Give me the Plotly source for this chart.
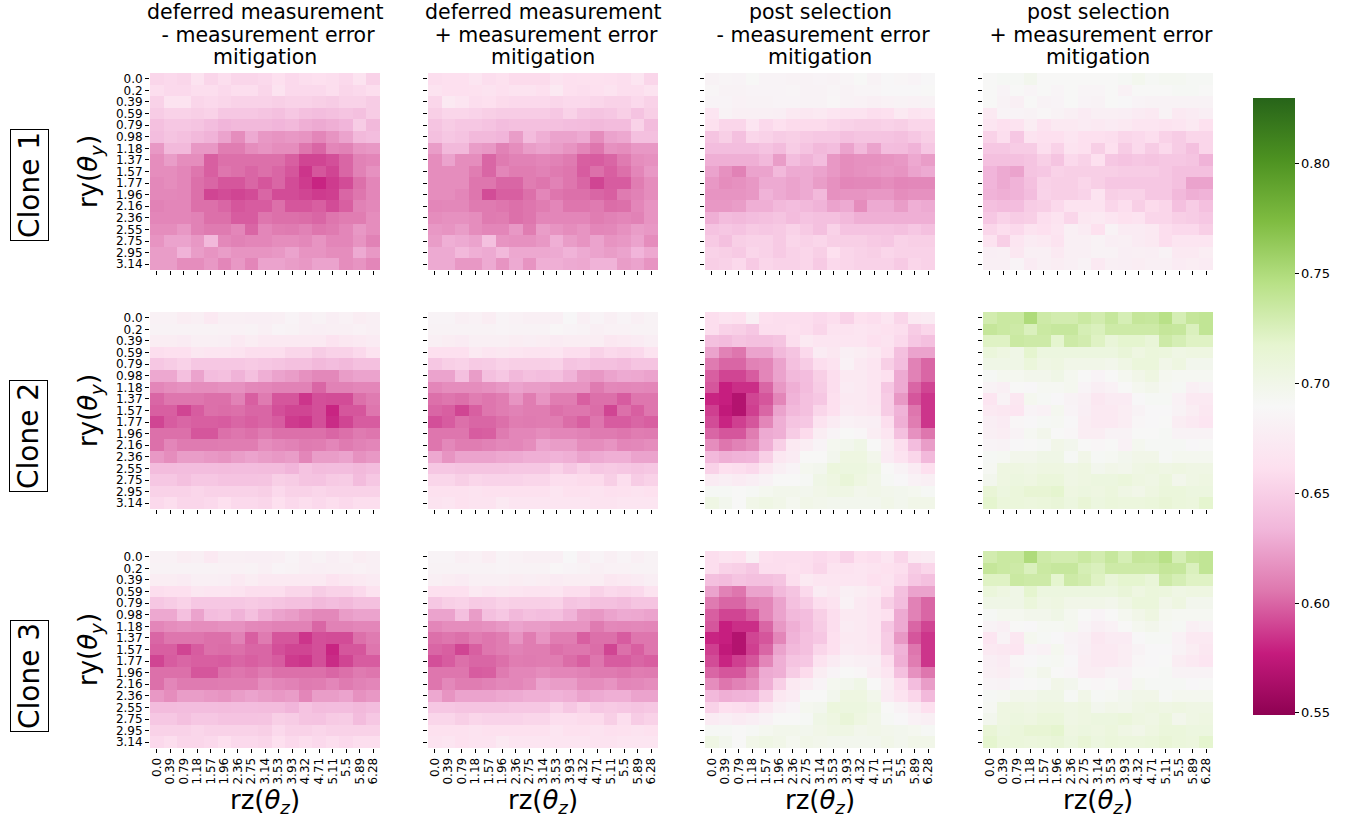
import plotly.graph_objects as go

ry_labels = ["0.0", "0.2", "0.39", "0.59", "0.79", "0.98", "1.18", "1.37", "1.57",
             "1.77", "1.96", "2.16", "2.36", "2.55", "2.75", "2.95", "3.14"]
rz_labels = ["0.0", "0.39", "0.79", "1.18", "1.57", "1.96", "2.36", "2.75", "3.14",
             "3.53", "3.93", "4.32", "4.71", "5.11", "5.5", "5.89", "6.28"]

col_titles = [["deferred measurement", " - measurement error", "mitigation"],
              ["deferred measurement", " + measurement error", "mitigation"],
              ["post selection", " - measurement error", "mitigation"],
              ["post selection", " + measurement error", "mitigation"]]
row_titles = ["Clone 1", "Clone 2", "Clone 3"]

# Clone 1
c1_dm_minus = [
    [0.655,0.657,0.655,0.665,0.655,0.660,0.655,0.655,0.657,0.662,0.657,0.660,0.662,0.660,0.657,0.665,0.652],
    [0.660,0.657,0.657,0.660,0.660,0.657,0.660,0.660,0.655,0.665,0.657,0.657,0.657,0.660,0.655,0.657,0.660],
    [0.652,0.665,0.665,0.655,0.657,0.655,0.652,0.652,0.652,0.650,0.652,0.652,0.650,0.648,0.652,0.652,0.648],
    [0.648,0.652,0.652,0.650,0.652,0.645,0.645,0.645,0.643,0.640,0.645,0.640,0.638,0.640,0.643,0.640,0.648],
    [0.640,0.645,0.645,0.643,0.638,0.633,0.635,0.635,0.635,0.633,0.635,0.630,0.628,0.630,0.633,0.648,0.635],
    [0.638,0.643,0.640,0.635,0.632,0.625,0.615,0.628,0.620,0.618,0.620,0.618,0.612,0.618,0.625,0.635,0.638],
    [0.620,0.635,0.635,0.620,0.620,0.608,0.608,0.615,0.618,0.615,0.615,0.605,0.600,0.612,0.610,0.618,0.620],
    [0.615,0.622,0.615,0.615,0.598,0.603,0.603,0.603,0.603,0.603,0.598,0.590,0.590,0.593,0.600,0.610,0.612],
    [0.615,0.615,0.612,0.605,0.598,0.605,0.603,0.600,0.603,0.600,0.595,0.585,0.595,0.590,0.600,0.610,0.617],
    [0.613,0.615,0.612,0.603,0.600,0.595,0.595,0.600,0.595,0.600,0.592,0.587,0.580,0.587,0.592,0.603,0.612],
    [0.613,0.613,0.612,0.603,0.590,0.592,0.590,0.592,0.600,0.592,0.592,0.590,0.587,0.588,0.600,0.605,0.612],
    [0.610,0.612,0.612,0.603,0.603,0.600,0.595,0.597,0.597,0.603,0.595,0.595,0.598,0.592,0.598,0.610,0.613],
    [0.612,0.612,0.612,0.610,0.603,0.603,0.597,0.597,0.605,0.603,0.603,0.602,0.600,0.605,0.608,0.608,0.615],
    [0.615,0.615,0.620,0.610,0.607,0.607,0.612,0.600,0.612,0.608,0.607,0.610,0.605,0.607,0.612,0.620,0.615],
    [0.618,0.625,0.625,0.620,0.635,0.613,0.610,0.612,0.612,0.615,0.615,0.613,0.618,0.612,0.612,0.618,0.610],
    [0.622,0.622,0.632,0.622,0.618,0.622,0.618,0.618,0.618,0.620,0.625,0.618,0.618,0.615,0.615,0.628,0.620],
    [0.622,0.622,0.615,0.615,0.620,0.612,0.620,0.612,0.625,0.625,0.622,0.620,0.625,0.625,0.615,0.618,0.612],
]
c1_dm_plus = [
    [0.660,0.662,0.662,0.667,0.660,0.663,0.658,0.658,0.658,0.665,0.662,0.663,0.663,0.662,0.660,0.667,0.655],
    [0.665,0.662,0.662,0.663,0.665,0.662,0.665,0.665,0.662,0.672,0.662,0.660,0.662,0.665,0.660,0.660,0.665],
    [0.655,0.672,0.668,0.660,0.662,0.658,0.657,0.657,0.657,0.655,0.657,0.657,0.655,0.652,0.652,0.657,0.652],
    [0.650,0.655,0.655,0.653,0.650,0.648,0.648,0.648,0.648,0.645,0.652,0.645,0.643,0.645,0.650,0.642,0.650],
    [0.643,0.648,0.645,0.645,0.642,0.638,0.640,0.640,0.640,0.640,0.638,0.637,0.635,0.637,0.637,0.652,0.637],
    [0.640,0.645,0.642,0.635,0.635,0.633,0.622,0.637,0.630,0.625,0.625,0.628,0.615,0.625,0.627,0.640,0.640],
    [0.622,0.635,0.635,0.622,0.620,0.610,0.615,0.622,0.625,0.622,0.618,0.612,0.605,0.617,0.615,0.620,0.620],
    [0.615,0.625,0.615,0.615,0.600,0.607,0.610,0.610,0.612,0.610,0.607,0.598,0.597,0.600,0.607,0.615,0.617],
    [0.615,0.615,0.615,0.608,0.600,0.612,0.608,0.608,0.610,0.607,0.605,0.597,0.603,0.598,0.603,0.612,0.620],
    [0.615,0.615,0.615,0.605,0.605,0.600,0.600,0.608,0.605,0.610,0.605,0.600,0.590,0.597,0.597,0.608,0.615],
    [0.615,0.615,0.612,0.605,0.592,0.598,0.598,0.603,0.612,0.605,0.603,0.603,0.600,0.598,0.607,0.610,0.615],
    [0.612,0.613,0.613,0.607,0.607,0.605,0.603,0.605,0.608,0.612,0.605,0.605,0.607,0.602,0.603,0.612,0.618],
    [0.615,0.617,0.617,0.615,0.607,0.608,0.603,0.605,0.612,0.612,0.612,0.612,0.608,0.610,0.612,0.610,0.618],
    [0.620,0.618,0.622,0.615,0.612,0.612,0.620,0.608,0.622,0.618,0.615,0.618,0.612,0.613,0.617,0.622,0.620],
    [0.622,0.630,0.628,0.625,0.640,0.618,0.617,0.617,0.620,0.630,0.622,0.618,0.625,0.618,0.620,0.625,0.615],
    [0.628,0.628,0.635,0.630,0.628,0.635,0.627,0.627,0.627,0.628,0.632,0.628,0.625,0.622,0.625,0.633,0.627],
    [0.628,0.628,0.620,0.620,0.628,0.618,0.628,0.618,0.630,0.630,0.628,0.627,0.632,0.632,0.622,0.625,0.618],
]
c1_ps_minus = [
    [0.683,0.686,0.685,0.690,0.685,0.685,0.683,0.683,0.685,0.683,0.686,0.690,0.683,0.688,0.687,0.685,0.688],
    [0.687,0.683,0.683,0.685,0.685,0.685,0.686,0.683,0.683,0.686,0.683,0.686,0.686,0.688,0.688,0.688,0.690],
    [0.685,0.685,0.682,0.683,0.683,0.685,0.685,0.683,0.683,0.687,0.683,0.682,0.680,0.682,0.683,0.682,0.683],
    [0.668,0.683,0.680,0.680,0.680,0.678,0.672,0.670,0.672,0.668,0.665,0.665,0.660,0.662,0.673,0.665,0.667],
    [0.663,0.655,0.655,0.667,0.657,0.662,0.658,0.658,0.658,0.655,0.652,0.650,0.650,0.652,0.650,0.655,0.655],
    [0.643,0.650,0.640,0.655,0.652,0.648,0.650,0.647,0.645,0.645,0.640,0.643,0.643,0.642,0.640,0.645,0.650],
    [0.638,0.638,0.638,0.638,0.642,0.637,0.648,0.642,0.635,0.638,0.625,0.635,0.625,0.638,0.637,0.632,0.645],
    [0.630,0.630,0.630,0.630,0.635,0.622,0.638,0.632,0.638,0.620,0.615,0.617,0.617,0.618,0.620,0.627,0.622],
    [0.625,0.617,0.610,0.625,0.625,0.635,0.628,0.628,0.625,0.620,0.615,0.617,0.618,0.620,0.618,0.625,0.628],
    [0.620,0.615,0.617,0.620,0.628,0.628,0.625,0.628,0.622,0.617,0.612,0.613,0.613,0.615,0.612,0.613,0.613],
    [0.618,0.618,0.618,0.620,0.632,0.628,0.625,0.628,0.635,0.617,0.618,0.618,0.620,0.620,0.615,0.617,0.617],
    [0.620,0.620,0.622,0.630,0.630,0.635,0.638,0.635,0.632,0.625,0.628,0.615,0.628,0.628,0.622,0.630,0.628],
    [0.630,0.637,0.635,0.638,0.640,0.643,0.637,0.642,0.640,0.640,0.635,0.630,0.630,0.630,0.630,0.630,0.630],
    [0.642,0.645,0.642,0.647,0.645,0.647,0.652,0.647,0.640,0.652,0.642,0.642,0.642,0.642,0.640,0.645,0.640],
    [0.647,0.640,0.650,0.652,0.652,0.647,0.655,0.652,0.655,0.650,0.650,0.650,0.647,0.645,0.652,0.650,0.650],
    [0.652,0.650,0.647,0.655,0.652,0.647,0.652,0.655,0.650,0.662,0.655,0.652,0.650,0.655,0.652,0.652,0.652],
    [0.650,0.652,0.657,0.647,0.655,0.652,0.652,0.655,0.647,0.657,0.655,0.652,0.652,0.652,0.647,0.655,0.652],
]
c1_ps_plus = [
    [0.690,0.692,0.692,0.697,0.690,0.690,0.690,0.690,0.690,0.690,0.692,0.696,0.692,0.694,0.694,0.692,0.692],
    [0.690,0.685,0.690,0.686,0.690,0.686,0.690,0.686,0.686,0.690,0.682,0.690,0.690,0.690,0.692,0.692,0.690],
    [0.690,0.683,0.680,0.690,0.683,0.685,0.690,0.685,0.683,0.690,0.688,0.685,0.683,0.683,0.683,0.683,0.683],
    [0.673,0.685,0.685,0.683,0.687,0.683,0.680,0.675,0.680,0.680,0.678,0.675,0.672,0.683,0.672,0.675,0.678],
    [0.668,0.662,0.665,0.677,0.665,0.673,0.673,0.675,0.672,0.675,0.672,0.667,0.667,0.665,0.667,0.672,0.663],
    [0.652,0.660,0.645,0.665,0.662,0.662,0.667,0.662,0.662,0.660,0.655,0.657,0.660,0.652,0.648,0.655,0.655],
    [0.645,0.645,0.648,0.648,0.660,0.652,0.665,0.662,0.650,0.662,0.648,0.657,0.648,0.657,0.648,0.640,0.655],
    [0.640,0.640,0.640,0.643,0.650,0.643,0.657,0.652,0.662,0.645,0.642,0.645,0.643,0.645,0.645,0.643,0.632],
    [0.633,0.628,0.625,0.643,0.645,0.652,0.650,0.650,0.650,0.650,0.648,0.648,0.648,0.645,0.640,0.640,0.640],
    [0.633,0.628,0.632,0.640,0.652,0.650,0.650,0.655,0.650,0.645,0.645,0.645,0.645,0.645,0.640,0.625,0.625],
    [0.632,0.630,0.632,0.638,0.653,0.650,0.650,0.653,0.665,0.650,0.652,0.652,0.645,0.645,0.635,0.630,0.632],
    [0.640,0.637,0.638,0.648,0.650,0.657,0.665,0.665,0.665,0.655,0.660,0.650,0.658,0.655,0.640,0.648,0.640],
    [0.645,0.652,0.648,0.650,0.660,0.665,0.655,0.670,0.672,0.668,0.663,0.665,0.655,0.655,0.650,0.648,0.645],
    [0.655,0.660,0.657,0.665,0.662,0.667,0.680,0.675,0.663,0.683,0.675,0.675,0.673,0.660,0.657,0.657,0.650],
    [0.665,0.650,0.668,0.675,0.672,0.665,0.680,0.680,0.683,0.678,0.680,0.675,0.672,0.660,0.668,0.668,0.668],
    [0.678,0.680,0.670,0.680,0.680,0.672,0.680,0.680,0.683,0.683,0.678,0.680,0.678,0.683,0.672,0.672,0.677],
    [0.680,0.680,0.685,0.675,0.680,0.677,0.680,0.683,0.672,0.680,0.678,0.677,0.680,0.680,0.675,0.677,0.675],
]

# Clone 2
c2_dm_minus = [
    [0.682,0.682,0.677,0.680,0.672,0.680,0.680,0.678,0.678,0.680,0.685,0.680,0.683,0.678,0.682,0.677,0.680],
    [0.683,0.683,0.683,0.683,0.683,0.682,0.682,0.683,0.680,0.685,0.683,0.680,0.678,0.680,0.680,0.682,0.680],
    [0.677,0.677,0.675,0.680,0.680,0.678,0.672,0.677,0.672,0.672,0.672,0.672,0.672,0.665,0.670,0.672,0.675],
    [0.660,0.662,0.662,0.670,0.668,0.668,0.665,0.660,0.660,0.660,0.655,0.655,0.648,0.652,0.652,0.657,0.665],
    [0.645,0.648,0.652,0.645,0.645,0.645,0.645,0.647,0.645,0.643,0.640,0.640,0.635,0.638,0.635,0.640,0.640],
    [0.627,0.627,0.640,0.625,0.638,0.640,0.632,0.640,0.630,0.625,0.622,0.617,0.613,0.613,0.622,0.625,0.625],
    [0.612,0.615,0.617,0.615,0.615,0.617,0.617,0.613,0.612,0.610,0.610,0.610,0.600,0.610,0.610,0.612,0.612],
    [0.600,0.605,0.605,0.605,0.603,0.603,0.610,0.598,0.607,0.595,0.595,0.585,0.593,0.592,0.592,0.603,0.607],
    [0.598,0.598,0.590,0.597,0.603,0.602,0.603,0.600,0.600,0.593,0.590,0.590,0.593,0.580,0.595,0.595,0.605],
    [0.590,0.597,0.600,0.598,0.598,0.597,0.600,0.598,0.600,0.597,0.587,0.585,0.593,0.582,0.590,0.597,0.597],
    [0.603,0.603,0.603,0.595,0.595,0.603,0.605,0.603,0.607,0.603,0.603,0.603,0.603,0.600,0.603,0.607,0.605],
    [0.603,0.612,0.607,0.607,0.607,0.608,0.608,0.608,0.615,0.612,0.610,0.607,0.608,0.612,0.607,0.610,0.612],
    [0.620,0.615,0.622,0.622,0.620,0.618,0.622,0.625,0.622,0.620,0.622,0.612,0.622,0.622,0.625,0.617,0.620],
    [0.637,0.637,0.638,0.638,0.638,0.637,0.638,0.638,0.637,0.637,0.633,0.642,0.637,0.638,0.638,0.635,0.638],
    [0.645,0.645,0.640,0.645,0.645,0.642,0.642,0.642,0.643,0.650,0.648,0.643,0.642,0.647,0.648,0.637,0.645],
    [0.652,0.652,0.652,0.655,0.652,0.652,0.652,0.652,0.650,0.657,0.652,0.652,0.655,0.652,0.652,0.652,0.652],
    [0.657,0.660,0.655,0.655,0.657,0.662,0.657,0.657,0.655,0.662,0.657,0.660,0.657,0.660,0.657,0.660,0.660],
]
c2_dm_plus = [
    [0.685,0.685,0.680,0.682,0.677,0.685,0.682,0.680,0.680,0.680,0.688,0.680,0.685,0.680,0.685,0.680,0.683],
    [0.683,0.683,0.683,0.683,0.683,0.685,0.683,0.683,0.683,0.687,0.685,0.683,0.680,0.682,0.682,0.683,0.683],
    [0.680,0.677,0.675,0.680,0.680,0.680,0.677,0.678,0.677,0.675,0.677,0.677,0.677,0.670,0.672,0.675,0.678],
    [0.662,0.662,0.662,0.672,0.668,0.670,0.668,0.665,0.665,0.668,0.660,0.660,0.652,0.657,0.655,0.657,0.665],
    [0.645,0.650,0.652,0.647,0.648,0.652,0.650,0.650,0.650,0.652,0.643,0.645,0.640,0.640,0.637,0.643,0.643],
    [0.625,0.625,0.640,0.622,0.640,0.645,0.635,0.640,0.638,0.640,0.632,0.622,0.620,0.625,0.628,0.627,0.625],
    [0.612,0.615,0.615,0.615,0.617,0.620,0.625,0.622,0.622,0.618,0.618,0.618,0.607,0.613,0.612,0.613,0.612],
    [0.603,0.605,0.603,0.608,0.605,0.608,0.618,0.608,0.618,0.608,0.608,0.598,0.603,0.603,0.597,0.605,0.605],
    [0.600,0.598,0.590,0.598,0.605,0.608,0.610,0.608,0.608,0.603,0.605,0.605,0.602,0.590,0.603,0.598,0.605],
    [0.593,0.597,0.603,0.600,0.600,0.603,0.608,0.607,0.608,0.608,0.602,0.598,0.605,0.597,0.597,0.600,0.598],
    [0.605,0.605,0.605,0.597,0.598,0.607,0.612,0.612,0.615,0.612,0.612,0.610,0.607,0.607,0.605,0.608,0.607],
    [0.605,0.613,0.608,0.608,0.610,0.613,0.612,0.615,0.625,0.622,0.622,0.615,0.615,0.618,0.612,0.613,0.615],
    [0.627,0.618,0.625,0.625,0.625,0.627,0.628,0.630,0.630,0.632,0.630,0.625,0.628,0.630,0.630,0.625,0.625],
    [0.645,0.645,0.643,0.643,0.643,0.643,0.645,0.645,0.645,0.652,0.645,0.652,0.645,0.647,0.645,0.643,0.645],
    [0.655,0.655,0.650,0.655,0.653,0.653,0.653,0.655,0.655,0.660,0.660,0.658,0.658,0.650,0.660,0.648,0.652],
    [0.663,0.663,0.663,0.665,0.663,0.663,0.663,0.663,0.663,0.667,0.663,0.663,0.665,0.662,0.663,0.665,0.663],
    [0.665,0.667,0.663,0.665,0.665,0.672,0.667,0.667,0.667,0.668,0.667,0.667,0.665,0.665,0.667,0.667,0.667],
]
c2_ps_minus = [
    [0.660,0.665,0.663,0.680,0.662,0.660,0.660,0.660,0.657,0.660,0.652,0.663,0.660,0.668,0.655,0.672,0.675],
    [0.660,0.652,0.650,0.645,0.660,0.660,0.662,0.660,0.655,0.665,0.665,0.667,0.665,0.663,0.660,0.648,0.655],
    [0.640,0.637,0.643,0.640,0.640,0.643,0.660,0.672,0.668,0.668,0.668,0.668,0.662,0.665,0.657,0.645,0.640],
    [0.625,0.610,0.605,0.625,0.625,0.635,0.643,0.657,0.675,0.670,0.680,0.677,0.672,0.662,0.640,0.625,0.625],
    [0.607,0.600,0.600,0.610,0.612,0.625,0.640,0.648,0.660,0.665,0.682,0.672,0.668,0.650,0.638,0.610,0.600],
    [0.598,0.590,0.590,0.597,0.612,0.625,0.635,0.638,0.650,0.660,0.672,0.672,0.668,0.662,0.628,0.610,0.600],
    [0.595,0.578,0.583,0.583,0.600,0.620,0.630,0.637,0.648,0.660,0.675,0.672,0.668,0.645,0.628,0.600,0.590],
    [0.580,0.578,0.568,0.590,0.595,0.612,0.632,0.640,0.645,0.662,0.673,0.672,0.668,0.648,0.620,0.595,0.585],
    [0.588,0.575,0.568,0.588,0.600,0.625,0.635,0.640,0.655,0.662,0.675,0.673,0.670,0.648,0.632,0.605,0.585],
    [0.592,0.580,0.588,0.595,0.612,0.630,0.643,0.645,0.665,0.675,0.682,0.680,0.678,0.660,0.630,0.608,0.585],
    [0.600,0.595,0.595,0.608,0.628,0.630,0.648,0.658,0.677,0.685,0.690,0.687,0.677,0.667,0.640,0.617,0.605],
    [0.615,0.605,0.610,0.615,0.630,0.650,0.672,0.677,0.685,0.695,0.697,0.702,0.690,0.677,0.660,0.638,0.622],
    [0.635,0.630,0.632,0.633,0.650,0.670,0.675,0.690,0.690,0.697,0.705,0.705,0.698,0.675,0.665,0.655,0.635],
    [0.652,0.662,0.660,0.657,0.670,0.680,0.685,0.695,0.697,0.708,0.707,0.707,0.703,0.690,0.683,0.675,0.662],
    [0.675,0.678,0.675,0.678,0.683,0.690,0.690,0.692,0.702,0.705,0.712,0.705,0.700,0.692,0.688,0.682,0.680],
    [0.692,0.692,0.690,0.692,0.695,0.698,0.698,0.697,0.700,0.703,0.703,0.698,0.700,0.698,0.697,0.695,0.692],
    [0.703,0.697,0.690,0.700,0.703,0.700,0.695,0.700,0.698,0.697,0.697,0.697,0.697,0.700,0.697,0.700,0.700],
]
c2_ps_plus = [
    [0.730,0.735,0.735,0.750,0.733,0.730,0.730,0.735,0.730,0.737,0.728,0.738,0.737,0.745,0.728,0.738,0.740],
    [0.738,0.735,0.733,0.725,0.735,0.737,0.737,0.728,0.725,0.733,0.733,0.733,0.733,0.738,0.737,0.725,0.740],
    [0.722,0.722,0.735,0.733,0.733,0.718,0.733,0.730,0.722,0.712,0.718,0.718,0.712,0.733,0.728,0.722,0.722],
    [0.710,0.705,0.702,0.718,0.707,0.707,0.707,0.707,0.707,0.707,0.712,0.705,0.710,0.708,0.703,0.705,0.705],
    [0.702,0.702,0.702,0.710,0.703,0.705,0.700,0.700,0.700,0.698,0.703,0.710,0.710,0.700,0.705,0.697,0.697],
    [0.692,0.695,0.695,0.698,0.698,0.702,0.695,0.690,0.685,0.690,0.695,0.700,0.705,0.695,0.693,0.693,0.693],
    [0.683,0.680,0.690,0.688,0.693,0.693,0.695,0.685,0.678,0.682,0.690,0.695,0.698,0.693,0.692,0.680,0.683],
    [0.668,0.683,0.670,0.695,0.692,0.688,0.683,0.680,0.670,0.675,0.675,0.688,0.692,0.692,0.682,0.672,0.672],
    [0.672,0.670,0.668,0.685,0.682,0.695,0.685,0.678,0.673,0.672,0.677,0.683,0.688,0.688,0.683,0.677,0.670],
    [0.678,0.675,0.687,0.688,0.692,0.693,0.688,0.677,0.673,0.673,0.677,0.687,0.688,0.690,0.677,0.672,0.667],
    [0.680,0.677,0.683,0.693,0.698,0.690,0.687,0.677,0.677,0.683,0.683,0.690,0.690,0.692,0.683,0.683,0.683],
    [0.685,0.683,0.688,0.690,0.692,0.700,0.697,0.690,0.687,0.690,0.682,0.695,0.692,0.692,0.692,0.688,0.690],
    [0.692,0.693,0.698,0.698,0.702,0.702,0.692,0.700,0.692,0.693,0.697,0.700,0.700,0.692,0.695,0.695,0.695],
    [0.693,0.705,0.705,0.703,0.705,0.705,0.703,0.705,0.697,0.700,0.698,0.703,0.705,0.703,0.705,0.703,0.703],
    [0.697,0.705,0.707,0.705,0.710,0.710,0.703,0.705,0.707,0.707,0.710,0.705,0.703,0.708,0.698,0.703,0.705],
    [0.713,0.707,0.710,0.715,0.715,0.718,0.705,0.707,0.705,0.708,0.703,0.700,0.705,0.710,0.710,0.707,0.707],
    [0.718,0.710,0.710,0.708,0.710,0.712,0.707,0.713,0.707,0.710,0.708,0.708,0.710,0.713,0.710,0.708,0.718],
]

# Clone 3 (reads identical to Clone 2 in the picture)
c3_dm_minus = [row[:] for row in c2_dm_minus]
c3_dm_plus = [row[:] for row in c2_dm_plus]
c3_ps_minus = [row[:] for row in c2_ps_minus]
c3_ps_plus = [row[:] for row in c2_ps_plus]

grid = [
    [c1_dm_minus, c1_dm_plus, c1_ps_minus, c1_ps_plus],
    [c2_dm_minus, c2_dm_plus, c2_ps_minus, c2_ps_plus],
    [c3_dm_minus, c3_dm_plus, c3_ps_minus, c3_ps_plus],
]

cb_ticks = [0.55, 0.60, 0.65, 0.70, 0.75, 0.80]
vmin, vmax = 0.549, 0.830

W, H = 1364, 825


def px(x):
    return x / W


def py(y):
    return 1 - y / H


col_left = [150, 428, 705, 983]
panel_w = 230
row_top = [73, 312, 551]
panel_h = 197

FONT = "DejaVu Sans"
fig = go.Figure()
layout = {}
annotations = []
idx = list(range(17))

for r in range(3):
    for c in range(4):
        k = r * 4 + c + 1
        xname = "x" if k == 1 else f"x{k}"
        yname = "y" if k == 1 else f"y{k}"
        fig.add_trace(go.Heatmap(
            z=grid[r][c], x=idx, y=idx, coloraxis="coloraxis",
            xaxis=xname, yaxis=yname,
        ))
        xa = "xaxis" if k == 1 else f"xaxis{k}"
        ya = "yaxis" if k == 1 else f"yaxis{k}"
        xd = dict(
            domain=[px(col_left[c]), px(col_left[c] + panel_w)], anchor=yname,
            range=[-0.5, 16.5], automargin=False,
            tickmode="array", tickvals=idx, ticktext=rz_labels,
            showticklabels=(r == 2), tickangle=-90,
            ticks="outside", ticklen=4, tickwidth=1, tickcolor="black",
            tickfont=dict(size=12, color="black", family=FONT),
            showgrid=False, zeroline=False, showline=False,
        )
        if r == 2:
            xd["title"] = dict(text="rz(<i>θ<sub>z</sub></i>)",
                               font=dict(size=26, color="black", family=FONT), standoff=2)
        yd = dict(
            domain=[py(row_top[r] + panel_h), py(row_top[r])], anchor=xname,
            range=[16.5, -0.5], automargin=False,
            tickmode="array", tickvals=idx, ticktext=ry_labels,
            showticklabels=(c == 0),
            ticks="outside", ticklen=4, tickwidth=1, tickcolor="black",
            tickfont=dict(size=12, color="black", family=FONT),
            showgrid=False, zeroline=False, showline=False,
        )
        if c == 0:
            yd["title"] = dict(text="ry(<i>θ<sub>y</sub></i>)",
                               font=dict(size=26, color="black", family=FONT), standoff=10)
        layout[xa] = xd
        layout[ya] = yd

line_y = [12, 35, 57]
for c in range(4):
    for li, txt in enumerate(col_titles[c]):
        annotations.append(dict(
            text=txt, x=px(col_left[c] + panel_w / 2), y=py(line_y[li]),
            xref="paper", yref="paper", xanchor="center", yanchor="middle",
            showarrow=False, font=dict(size=20.5, color="black", family=FONT),
        ))

row_label_y = [185, 436, 676]
for r in range(3):
    annotations.append(dict(
        text=row_titles[r], x=px(29), y=py(row_label_y[r]),
        xref="paper", yref="paper", xanchor="center", yanchor="middle",
        textangle=-90, showarrow=False,
        font=dict(size=28, color="black", family=FONT),
        bordercolor="black", borderwidth=1, borderpad=2, bgcolor="white",
    ))

fig.update_layout(
    width=W, height=H,
    margin=dict(l=0, r=0, t=0, b=0, autoexpand=False),
    paper_bgcolor="white", plot_bgcolor="white",
    font=dict(family=FONT, color="black"),
    annotations=annotations,
    coloraxis=dict(
        colorscale="PiYG", cmin=vmin, cmax=vmax,
        colorbar=dict(
            x=px(1253), xanchor="left", y=py(715), yanchor="bottom",
            len=617 / H, lenmode="fraction", thickness=42, thicknessmode="pixels",
            outlinewidth=0, tickmode="array", tickvals=cb_ticks,
            ticktext=[f"{t:.2f}" for t in cb_ticks], xpad=0, ypad=0,
            ticks="outside", ticklen=4, tickcolor="black",
            tickfont=dict(size=13, color="black", family=FONT),
        ),
    ),
    **layout,
)

fig.write_html(
    "out.html",
    config={"displayModeBar": False},
    post_script="document.body.style.margin='0px';document.body.style.overflow='hidden';",
)
